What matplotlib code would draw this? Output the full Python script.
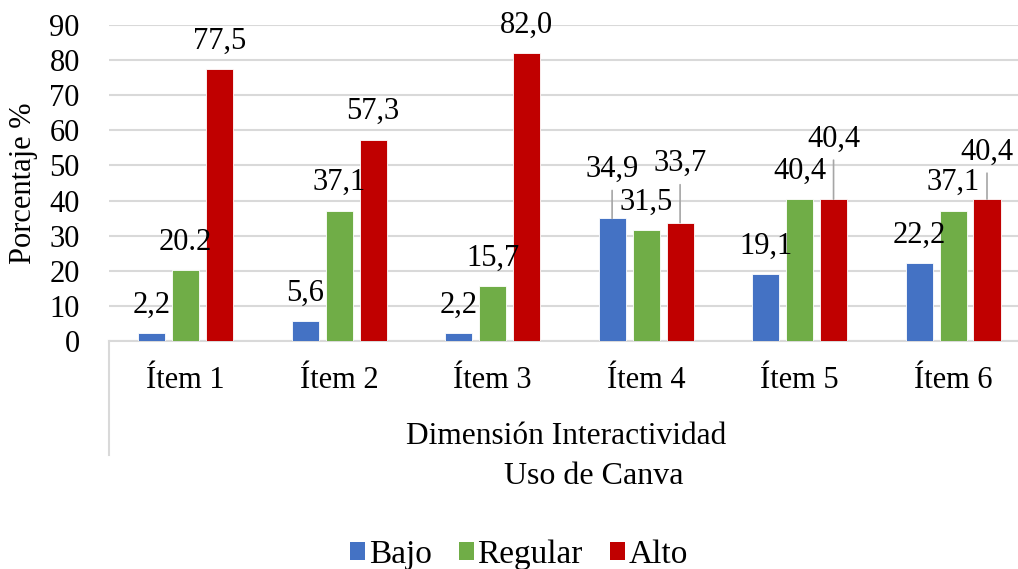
import matplotlib
matplotlib.use("Agg")
import matplotlib.pyplot as plt
from matplotlib.patches import Patch
from matplotlib.lines import Line2D
import numpy as np

categories = ["Ítem 1", "Ítem 2", "Ítem 3", "Ítem 4", "Ítem 5", "Ítem 6"]
series_names = ["Bajo", "Regular", "Alto"]
bajo = [2.2, 5.6, 2.2, 34.9, 19.1, 22.2]
regular = [20.2, 37.1, 15.7, 31.5, 40.4, 37.1]
alto = [77.5, 57.3, 82.0, 33.7, 40.4, 40.4]
bajo_labels = ["2,2", "5,6", "2,2", "34,9", "19,1", "22,2"]
regular_labels = ["20.2", "37,1", "15,7", "31,5", "40,4", "37,1"]
alto_labels = ["77,5", "57,3", "82,0", "33,7", "40,4", "40,4"]
yticks = [0, 10, 20, 30, 40, 50, 60, 70, 80, 90]
group_label = "Dimensión Interactividad"
axis_title = "Uso de Canva"
y_title = "Porcentaje %"

# labels moved up with leader lines: (series index, category index) -> extra lift in px
leader = {(0, 3): 21, (2, 3): 31, (2, 4): 32, (2, 5): 19}

colors = ["#4472C4", "#70AD47", "#C00000"]
FONT = "Liberation Serif"
plt.rcParams["font.family"] = [FONT, "DejaVu Serif"]

W, H = 1018, 569
fig = plt.figure(figsize=(W / 100, H / 100), dpi=100)
ax = fig.add_axes([109 / W, 1 - 341 / H, 1 - 109 / W, (341 - 25) / H])

x = np.arange(len(categories))
bw = 0.176
step = 0.2215
data = [bajo, regular, alto]
labels = [bajo_labels, regular_labels, alto_labels]
px2pt = 72 / 100
fs = 22

for i, (vals, labs) in enumerate(zip(data, labels)):
    xs = x + (i - 1) * step
    ax.bar(xs, vals, width=bw, color=colors[i], edgecolor="white", linewidth=0.6, zorder=3)
    for j, (xv, v, lab) in enumerate(zip(xs, vals, labs)):
        lift = leader.get((i, j), 0)
        off = (28 + lift) * px2pt
        ax.annotate(lab, xy=(xv, v), xytext=(0, off), textcoords="offset points",
                    ha="center", va="center", fontsize=fs, color="black", zorder=5)
        if lift:
            ax.annotate("", xy=(xv, v), xytext=(0, off - 21 * px2pt), textcoords="offset points",
                        arrowprops=dict(arrowstyle="-", color="#A6A6A6", lw=1.2,
                                        shrinkA=0, shrinkB=0), zorder=4)

ax.set_xlim(-0.5, 5.4235)
ax.set_ylim(0, 90)
ax.set_yticks(yticks)
ax.set_yticklabels([str(t) for t in yticks], fontsize=fs)
ax.yaxis.grid(True, color="#D9D9D9", linewidth=1.5, zorder=0)
ax.set_axisbelow(True)
for s in ["top", "right", "left"]:
    ax.spines[s].set_visible(False)
ax.spines["bottom"].set_color("#D9D9D9")
ax.spines["bottom"].set_linewidth(1.5)
ax.tick_params(axis="y", length=0, pad=21)
ax.set_xticks(x)
ax.set_xticklabels(categories, fontsize=fs)
ax.tick_params(axis="x", length=0, pad=18)

# vertical line of multi-level category axis
ax.add_line(Line2D([0, 0], [0, -(455 - 341) / (341 - 25)], transform=ax.transAxes,
                   color="#D9D9D9", lw=1.5, clip_on=False))
# group label centered on category span
ax.text((566 - 109) / (W - 109), -(437 - 341) / (341 - 25), group_label, transform=ax.transAxes,
        ha="center", va="center", fontsize=22.6)

fig.text(594 / W, 1 - 477 / H, axis_title, ha="center", va="center", fontsize=23)
fig.text(24 / W, 1 - 183 / H, y_title, ha="center", va="center", rotation=90, fontsize=fs)

handles = [Patch(facecolor=c, edgecolor="none") for c in colors]
fig.legend(handles, series_names, loc="center", bbox_to_anchor=(519 / W, 1 - 555 / H),
           ncol=3, frameon=False, fontsize=24, handlelength=0.45, handleheight=0.45,
           handletextpad=0.12, columnspacing=0.8, borderaxespad=0, borderpad=0)

fig.savefig("out.png", dpi=100)
